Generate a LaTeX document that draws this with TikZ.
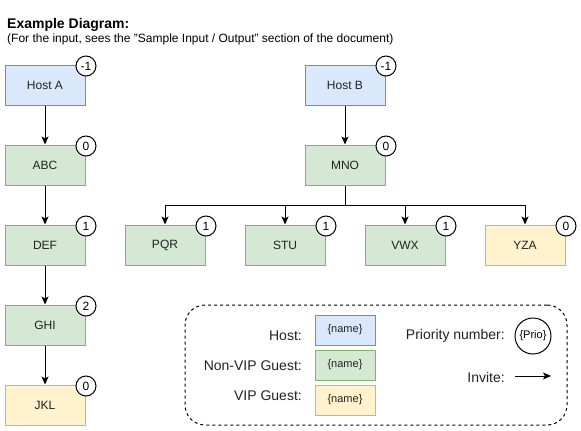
\documentclass[tikz,border=0pt]{standalone}
\usepackage{fontspec}
\setmainfont{Liberation Sans}
\usetikzlibrary{arrows.meta}
\definecolor{bfill}{HTML}{DAE8FC}\definecolor{bline}{HTML}{6C8EBF}
\definecolor{gfill}{HTML}{D5E8D4}\definecolor{gline}{HTML}{82B366}
\definecolor{yfill}{HTML}{FFF2CC}\definecolor{yline}{HTML}{D6B656}
\definecolor{txt}{HTML}{222222}
\tikzset{
  box/.style={draw, line width=1pt, minimum width=80pt, minimum height=40pt, inner sep=0pt, text=txt, font=\fontsize{12}{14}\selectfont},
  hostbox/.style={box, fill=bfill, draw=bline},
  guestbox/.style={box, fill=gfill, draw=gline},
  vipbox/.style={box, fill=yfill, draw=yline},
  legbox/.style={minimum width=60pt, minimum height=30pt, font=\fontsize{11}{13}\selectfont},
  badge/.style={circle, draw, line width=1pt, fill=white, minimum size=20pt, inner sep=0pt, font=\fontsize{12}{14}\selectfont},
  arr/.style={line width=1pt, -{Stealth[length=8pt,width=7pt,inset=2pt]}},
  lbl/.style={anchor=east, inner sep=0pt, text=txt, font=\fontsize{14}{16}\selectfont},
}
\begin{document}
\begin{tikzpicture}[x=1pt,y=-1pt]
\useasboundingbox (0,0) rectangle (581,431);
\node[anchor=base west, inner sep=0pt, font=\fontsize{14}{16}\selectfont\bfseries] (title) at (7,28) {Example Diagram:};
\node[anchor=base west, inner sep=0pt, font=\fontsize{12}{14}\selectfont] (sub) at (7,42.5) {(For the input, sees the "Sample Input / Output" section of the document)};
% left column
\node[hostbox] (hA) at (45,85) {Host A};
\node[guestbox] (abc) at (45,165) {ABC};
\node[guestbox] (def) at (45,245) {DEF};
\node[guestbox] (ghi) at (45,325) {GHI};
\node[vipbox] (jkl) at (45,405) {JKL};
% right tree
\node[hostbox] (hB) at (345,85) {Host B};
\node[guestbox] (mno) at (345,165) {MNO};
\node[guestbox] (pqr) at (165,245) {PQR};
\node[guestbox] (stu) at (285,245) {STU};
\node[guestbox] (vwx) at (405,245) {VWX};
\node[vipbox] (yza) at (525,245) {YZA};
% arrows
\draw[arr] (hA) -- (abc);
\draw[arr] (abc) -- (def);
\draw[arr] (def) -- (ghi);
\draw[arr] (ghi) -- (jkl);
\draw[arr] (hB) -- (mno);
\coordinate (br) at (345,205);
\draw[line width=1pt] (mno.south) -- (br);
\draw[arr] (br) -| (pqr.north);
\draw[arr] (br) -| (stu.north);
\draw[arr] (br) -| (vwx.north);
\draw[arr] (br) -| (yza.north);
% badges
\node[badge] (bhA) at (86,66) {-1};
\node[badge] (babc) at (86,146) {0};
\node[badge] (bdef) at (86,226) {1};
\node[badge] (bghi) at (86,306) {2};
\node[badge] (bjkl) at (86,386) {0};
\node[badge] (bhB) at (386,66) {-1};
\node[badge] (bmno) at (386,146) {0};
\node[badge] (bpqr) at (206,226) {1};
\node[badge] (bstu) at (326,226) {1};
\node[badge] (bvwx) at (446,226) {1};
\node[badge] (byza) at (566,226) {0};
% legend
\node[draw, dashed, dash pattern=on 3pt off 3pt, line width=1pt, rounded corners=20pt, minimum width=382pt, minimum height=120pt] (leg) at (376,365) {};
\node[hostbox, legbox] (lh) at (345,330) {\{name\}};
\node[guestbox, legbox] (lg) at (345,365) {\{name\}};
\node[vipbox, legbox] (lv) at (345,400) {\{name\}};
\node[lbl] (tH) at (302,336) {Host:};
\node[lbl] (tG) at (302,366) {Non-VIP Guest:};
\node[lbl] (tV) at (302,396) {VIP Guest:};
\node[lbl] (tP) at (505,336) {Priority number:};
\node[circle, draw, line width=1pt, minimum size=36pt, inner sep=0pt, font=\fontsize{11}{13}\selectfont] (prio) at (533,336) {\{Prio\}};
\node[lbl] (tI) at (505,377) {Invite:};
\coordinate (i1) at (515,376);
\coordinate (i2) at (551,376);
\draw[arr] (i1) -- (i2);
\end{tikzpicture}
\end{document}
